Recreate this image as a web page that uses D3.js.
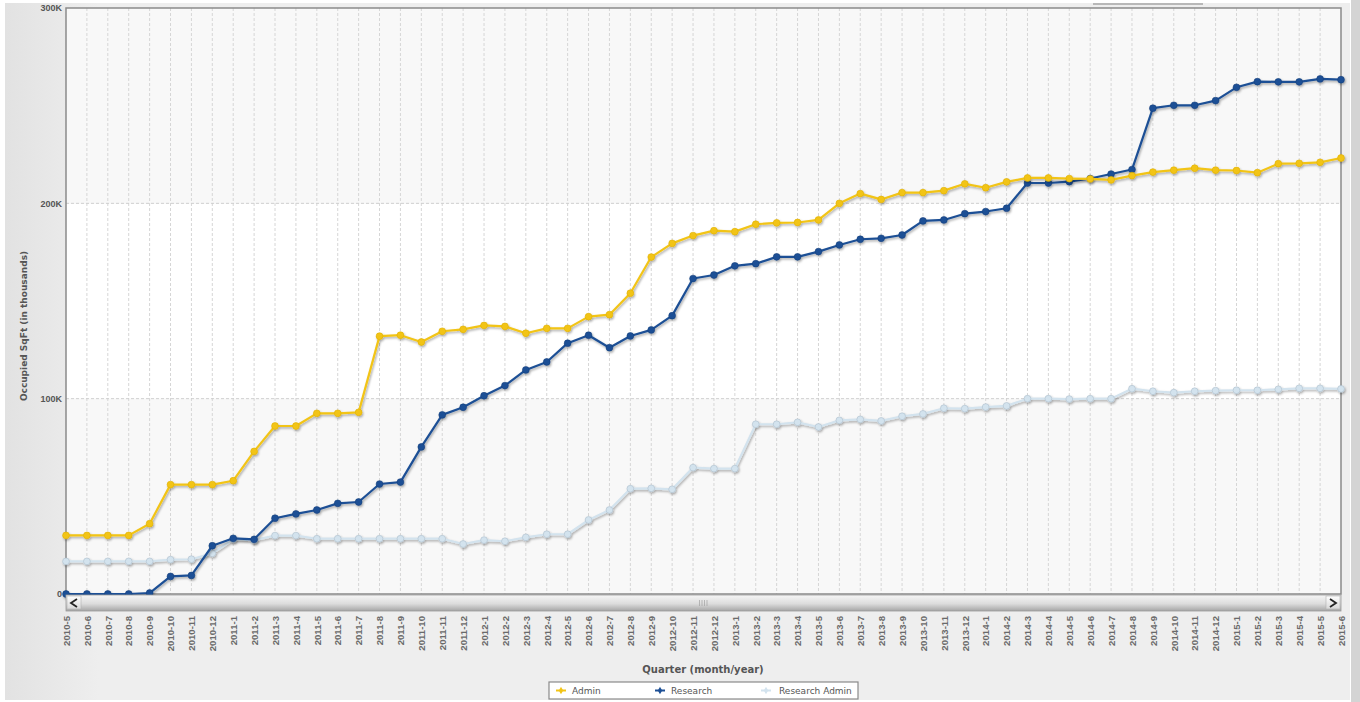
<!DOCTYPE html>
<html>
<head>
<meta charset="utf-8">
<script src="https://cdn.jsdelivr.net/npm/d3@7/dist/d3.min.js"></script>
<style>
  html, body { margin: 0; padding: 0; background: #ffffff; }
  svg { display: block; font-family: "DejaVu Sans", Verdana, sans-serif; }
</style>
</head>
<body>
<svg id="chart" width="1360" height="702"></svg>
<script>
// Monthly periods, May 2010 through June 2015
const months = [
  "2010-5","2010-6","2010-7","2010-8","2010-9","2010-10","2010-11","2010-12",
  "2011-1","2011-2","2011-3","2011-4","2011-5","2011-6","2011-7","2011-8","2011-9","2011-10","2011-11","2011-12",
  "2012-1","2012-2","2012-3","2012-4","2012-5","2012-6","2012-7","2012-8","2012-9","2012-10","2012-11","2012-12",
  "2013-1","2013-2","2013-3","2013-4","2013-5","2013-6","2013-7","2013-8","2013-9","2013-10","2013-11","2013-12",
  "2014-1","2014-2","2014-3","2014-4","2014-5","2014-6","2014-7","2014-8","2014-9","2014-10","2014-11","2014-12",
  "2015-1","2015-2","2015-3","2015-4","2015-5","2015-6"
];

// Occupied square feet, in thousands
const admin = [
  30, 30, 30, 30, 36, 56, 56, 56,
  58, 73, 86, 86, 92.5, 92.5, 93, 132, 132.5, 129, 134.5, 135.5,
  137.5, 137, 133.5, 136, 136, 142, 143, 154, 172.5, 179.5, 183.5, 186,
  185.5, 189.3, 190, 190.2, 191.5, 200, 205, 202, 205.5, 205.5, 206.5, 210,
  208, 211, 213, 213, 212.7, 212.5, 212, 214.2, 216, 217, 218, 217,
  216.8, 215.7, 220.3, 220.5, 221, 223.2
];
const research = [
  0, 0, 0, 0, 0.5, 9, 9.5, 24.7,
  28.5, 28, 38.8, 41, 43, 46.4, 47.1, 56.3, 57.3, 75.3, 91.7, 95.6,
  101.5, 106.7, 114.7, 118.8, 128.4, 132.5, 126.1, 132.1, 135.2, 142.5, 161.5, 163.3,
  168, 169.1, 172.6, 172.6, 175.3, 178.7, 181.6, 182.1, 183.8, 191, 191.5, 194.7,
  195.8, 197.5, 210.4, 210.4, 211.1, 212.7, 215, 217.3, 248.7, 250.2, 250.2, 252.6,
  259.4, 262.3, 262.2, 262.2, 263.7, 263.3
];
const researchAdmin = [
  16.7, 16.7, 16.7, 16.7, 16.7, 17.6, 17.8, 20.8,
  28, 27.6, 29.9, 29.9, 28.3, 28.3, 28.3, 28.3, 28.3, 28.3, 28.3, 25.6,
  27.6, 27, 29, 30.6, 30.6, 37.9, 43, 53.9, 54.1, 53.6, 64.7, 64.2,
  64.2, 86.9, 86.9, 87.9, 85.5, 88.9, 89.4, 88.6, 91, 92.2, 95.1, 94.9,
  95.7, 96.3, 100, 100, 99.8, 100, 100, 105.1, 103.8, 103.1, 103.8, 104.1,
  104.3, 104.3, 104.8, 105.3, 105.3, 105
];

const yTicks = [0, 100, 200, 300];
const yTickLabels = ["0", "100K", "200K", "300K"];
const seriesNames = ["Admin", "Research", "Research Admin"];
const seriesColors = ["#f2c416", "#1c4f95", "#d3e3ee"];
const seriesEdge = ["#e0b000", "#163f7c", "#aebfcc"];

const series = [admin, research, researchAdmin].map((vals, k) => ({
  name: seriesNames[k], color: seriesColors[k], edge: seriesEdge[k],
  values: vals.map((v, i) => ({ m: months[i], v }))
}));

const svg = d3.select("#chart");
const W = 1360, H = 702;
const plot = { left: 66, right: 1341, top: 8, bottom: 594 };

const defs = svg.append("defs");
const bgGrad = defs.append("linearGradient").attr("id", "bgGrad")
  .attr("x1", 0).attr("y1", 0).attr("x2", 1).attr("y2", 0);
bgGrad.append("stop").attr("offset", "0%").attr("stop-color", "#e2e2e2");
bgGrad.append("stop").attr("offset", "7%").attr("stop-color", "#eeeeee");
bgGrad.append("stop").attr("offset", "100%").attr("stop-color", "#eeeeee");

const barGrad = defs.append("linearGradient").attr("id", "barGrad")
  .attr("x1", 0).attr("y1", 0).attr("x2", 0).attr("y2", 1);
barGrad.append("stop").attr("offset", "0%").attr("stop-color", "#f6f6f6");
barGrad.append("stop").attr("offset", "55%").attr("stop-color", "#dcdcdc");
barGrad.append("stop").attr("offset", "100%").attr("stop-color", "#a6a6a6");

const btnGrad = defs.append("linearGradient").attr("id", "btnGrad")
  .attr("x1", 0).attr("y1", 0).attr("x2", 0).attr("y2", 1);
btnGrad.append("stop").attr("offset", "0%").attr("stop-color", "#ffffff");
btnGrad.append("stop").attr("offset", "100%").attr("stop-color", "#d8d8d8");

const shadow = defs.append("filter").attr("id", "shadow")
  .attr("x", "-5%").attr("y", "-5%").attr("width", "110%").attr("height", "110%");
shadow.append("feDropShadow").attr("dx", 1).attr("dy", 1.5)
  .attr("stdDeviation", 1).attr("flood-color", "#000").attr("flood-opacity", 0.35);

// page background
svg.append("rect").attr("width", W).attr("height", H).attr("fill", "#ffffff");
svg.append("rect").attr("x", 5).attr("y", 3).attr("width", 1345).attr("height", 697)
  .attr("fill", "url(#bgGrad)");
svg.append("rect").attr("x", 1351).attr("y", 0).attr("width", 9).attr("height", H)
  .attr("fill", "#d4d4d4");
svg.append("rect").attr("x", 1093).attr("y", 3).attr("width", 110).attr("height", 2)
  .attr("fill", "#b8b8b8");

// scales
const x = d3.scalePoint().domain(months).range([plot.left, plot.right]);
const y = d3.scaleLinear().domain([0, 300]).range([plot.bottom, plot.top]);

// alternating horizontal bands
const bands = d3.pairs(yTicks);
svg.append("g").selectAll("rect").data(bands).join("rect")
  .attr("x", plot.left).attr("width", plot.right - plot.left)
  .attr("y", d => y(d[1])).attr("height", d => y(d[0]) - y(d[1]))
  .attr("fill", (d, i) => i % 2 === 0 ? "#f8f8f8" : "#ffffff");

// grid lines
const grid = svg.append("g");
grid.selectAll("line.v").data(months.slice(1, -1)).join("line").attr("class", "v")
  .attr("x1", d => x(d)).attr("x2", d => x(d))
  .attr("y1", plot.top).attr("y2", plot.bottom)
  .attr("stroke", "#d6d6d6").attr("stroke-width", 1).attr("stroke-dasharray", "3,2");
grid.selectAll("line.h").data(yTicks.slice(1, -1)).join("line").attr("class", "h")
  .attr("x1", plot.left).attr("x2", plot.right)
  .attr("y1", d => y(d)).attr("y2", d => y(d))
  .attr("stroke", "#cfcfcf").attr("stroke-width", 1).attr("stroke-dasharray", "3,2");

// plot frame
svg.append("rect").attr("x", plot.left).attr("y", plot.top)
  .attr("width", plot.right - plot.left).attr("height", plot.bottom - plot.top)
  .attr("fill", "none").attr("stroke", "#8a8a8a").attr("stroke-width", 1.5);

// y axis
const yAxis = d3.axisLeft(y).tickValues(yTicks)
  .tickFormat((d, i) => yTickLabels[i]).tickSize(0).tickPadding(4);
const yg = svg.append("g").attr("transform", `translate(${plot.left},0)`).call(yAxis);
yg.select(".domain").remove();
yg.selectAll("text").attr("fill", "#555").style("font-size", "9px").style("font-weight", "bold");

svg.append("text")
  .attr("transform", `translate(27,326) rotate(-90)`)
  .attr("text-anchor", "middle").attr("fill", "#555")
  .style("font-size", "9px").style("font-weight", "bold")
  .text("Occupied SqFt (in thousands)");

// series lines and markers
const line = d3.line().x(d => x(d.m)).y(d => y(d.v));
const sg = svg.append("g").selectAll("g").data(series.slice().reverse()).join("g")
  .attr("filter", "url(#shadow)");
sg.append("path").attr("d", d => line(d.values))
  .attr("fill", "none").attr("stroke", d => d.color).attr("stroke-width", 2.2)
  .attr("stroke-linejoin", "round");
sg.each(function (s) {
  d3.select(this).selectAll("circle").data(s.values).join("circle")
    .attr("cx", d => x(d.m)).attr("cy", d => y(d.v)).attr("r", 3.4)
    .attr("fill", s.color).attr("stroke", s.edge).attr("stroke-width", 0.6);
});

// scrollbar beneath the plot
const sb = svg.append("g");
sb.append("rect").attr("x", plot.left).attr("y", 595).attr("width", plot.right - plot.left)
  .attr("height", 16).attr("fill", "url(#barGrad)").attr("stroke", "#9a9a9a").attr("stroke-width", 0.8);
sb.append("rect").attr("x", plot.left + 1).attr("y", 596).attr("width", 14).attr("height", 13)
  .attr("fill", "url(#btnGrad)").attr("stroke", "#b0b0b0").attr("stroke-width", 0.6);
sb.append("rect").attr("x", plot.right - 15).attr("y", 596).attr("width", 14).attr("height", 13)
  .attr("fill", "url(#btnGrad)").attr("stroke", "#b0b0b0").attr("stroke-width", 0.6);
sb.append("path").attr("d", `M${plot.left + 11},599 L${plot.left + 5},603 L${plot.left + 11},607`)
  .attr("fill", "none").attr("stroke", "#222").attr("stroke-width", 1.8);
sb.append("path").attr("d", `M${plot.right - 11},599 L${plot.right - 5},603 L${plot.right - 11},607`)
  .attr("fill", "none").attr("stroke", "#222").attr("stroke-width", 1.8);
sb.selectAll("line.grip").data(d3.range(4)).join("line").attr("class", "grip")
  .attr("x1", d => 699.5 + d * 2.5).attr("x2", d => 699.5 + d * 2.5)
  .attr("y1", 600).attr("y2", 606).attr("stroke", "#a0a0a0").attr("stroke-width", 0.7);

// x axis labels
const xAxis = d3.axisBottom(x).tickSize(0).tickPadding(0);
const xg = svg.append("g").attr("transform", `translate(0,616)`).call(xAxis);
xg.select(".domain").remove();
xg.selectAll("text")
  .attr("transform", "rotate(-90)")
  .attr("x", 0).attr("y", 0).attr("dx", 0).attr("dy", "0.34em")
  .attr("text-anchor", "end").attr("fill", "#6a6a6a")
  .style("font-size", "9.6px").style("font-weight", "bold");

svg.append("text").attr("x", 703).attr("y", 673).attr("text-anchor", "middle")
  .attr("fill", "#555").style("font-size", "10px").style("font-weight", "bold")
  .text("Quarter (month/year)");

// legend
const lg = svg.append("g");
lg.append("rect").attr("x", 549).attr("y", 682).attr("width", 309).attr("height", 17)
  .attr("fill", "#ffffff").attr("stroke", "#8a8a8a").attr("stroke-width", 1.2);
const legendX = [556, 655, 761];
const items = lg.selectAll("g").data(series).join("g")
  .attr("transform", (d, i) => `translate(${legendX[i]},690.5)`);
items.append("line").attr("x1", 0).attr("x2", 10).attr("y1", 0).attr("y2", 0)
  .attr("stroke", d => d.color).attr("stroke-width", 2);
items.append("path").attr("d", d3.symbol(d3.symbolDiamond, 16))
  .attr("transform", "translate(5,0)").attr("fill", d => d.color);
items.append("text").attr("x", (d, i) => i === 2 ? 18 : 16).attr("y", 0).attr("dy", "0.35em")
  .attr("fill", "#555").style("font-size", "9px").text(d => d.name);
</script>
</body>
</html>
